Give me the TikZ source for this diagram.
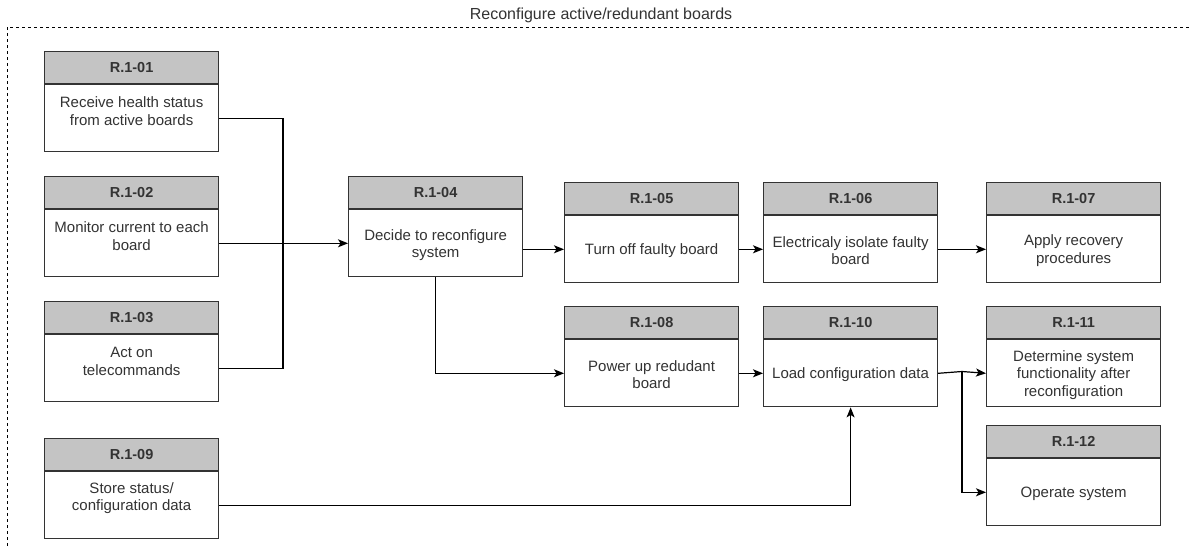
\documentclass[tikz,border=0pt]{standalone}
\usepackage{fontspec}
\setmainfont{Liberation Sans}
\usetikzlibrary{arrows.meta,positioning}
\definecolor{hdrfill}{HTML}{C4C4C4}
\definecolor{edgecol}{HTML}{333333}
\definecolor{txtcol}{HTML}{333333}
\tikzset{
  hdr/.style={draw=edgecol, line width=1.2pt, fill=hdrfill, minimum width=174pt,
    minimum height=32pt, inner sep=0pt, anchor=north west,
    font=\fontsize{14.5}{17}\selectfont\bfseries, text=txtcol},
  bodybox/.style={draw=edgecol, line width=1.2pt, fill=white, minimum width=174pt,
    minimum height=67pt, inner sep=0pt, anchor=north, align=center,
    font=\fontsize{15}{17.5}\selectfont, text=txtcol},
  txt/.style={align=center, inner sep=0pt, font=\fontsize{15}{17.5}\selectfont, text=txtcol},
  link/.style={line width=1.2pt, draw=black},
  arr/.style={link, -{Stealth[length=10pt,width=8pt,inset=2.5pt]}},
  frame/.style={line width=0.8pt, dash pattern=on 3pt off 3pt}
}
\newcommand{\taskbox}[4]{%
  \node[hdr] (#1h) at (#2,#3) {#4};
  \node[bodybox] (#1) at (#1h.south) {};
}
\begin{document}
\begin{tikzpicture}[x=1pt,y=-1pt]
\useasboundingbox (0,0) rectangle (1190,546);

% enclosing dashed frame and title
\node[font=\fontsize{16}{18}\selectfont, text=txtcol] (title) at (601,15) {Reconfigure active/redundant boards};
\coordinate (fa) at (7,546);
\coordinate (fb) at (7,27);
\coordinate (fc) at (1190,27);
\draw[frame] (fa) -- (fb) -- (fc);

% task boxes: header + body
\taskbox{b01}{44}{51}{R.1-01}
\taskbox{b02}{44}{176}{R.1-02}
\taskbox{b03}{44}{301}{R.1-03}
\taskbox{b09}{44}{438}{R.1-09}
\taskbox{b04}{348}{176}{R.1-04}
\taskbox{b05}{564}{182}{R.1-05}
\taskbox{b06}{763}{182}{R.1-06}
\taskbox{b07}{986}{182}{R.1-07}
\taskbox{b08}{564}{306}{R.1-08}
\taskbox{b10}{763}{306}{R.1-10}
\taskbox{b11}{986}{306}{R.1-11}
\taskbox{b12}{986}{425}{R.1-12}

% body texts (yshift is a canvas shift: positive moves up)
\node[txt] (t01) at ([yshift=7pt]b01.center) {Receive health status\\from active boards};
\node[txt] (t02) at ([yshift=7pt]b02.center) {Monitor current to each\\board};
\node[txt] (t03) at ([yshift=7pt]b03.center) {Act on\\telecommands};
\node[txt] (t09) at ([yshift=7pt]b09.center) {Store status/\\configuration data};
\node[txt] (t04) at ([yshift=-2pt]b04.center) {Decide to reconfigure\\system};
\node[txt] (t05) at ([yshift=-1.5pt]b05.center) {Turn off faulty board};
\node[txt] (t06) at ([yshift=-1.5pt]b06.center) {Electricaly isolate faulty\\board};
\node[txt] (t07) at ([yshift=-1.5pt]b07.center) {Apply recovery\\procedures};
\node[txt] (t08) at ([yshift=-1.5pt]b08.center) {Power up redudant\\board};
\node[txt] (t10) at ([yshift=-1.5pt]b10.center) {Load configuration data};
\node[txt] (t11) at ([yshift=-1.5pt]b11.center) {Determine system\\functionality after\\reconfiguration};
\node[txt] (t12) at ([yshift=-1.5pt]b12.center) {Operate system};

% connectors
\coordinate (merge) at (283,242);
\draw[link] (b01.east) -| (merge);
\draw[link] (b03.east) -| (merge);
\draw[arr] (b02.east) -- (b04.west);
\draw[arr] (b04.east |- b05.west) -- (b05.west);
\draw[arr] (b05.east) -- (b06.west);
\draw[arr] (b06.east) -- (b07.west);
\draw[arr] (b04.south) |- (b08.west);
\draw[arr] (b08.east) -- (b10.west);
\coordinate (split) at (962,371.5);
\draw[link] (b10.east) -- (split);
\draw[arr] (split) -- (b11.west);
\draw[arr] (split) |- (b12.west);
\draw[arr] (b09.east) -| (b10.south);
\end{tikzpicture}
\end{document}
